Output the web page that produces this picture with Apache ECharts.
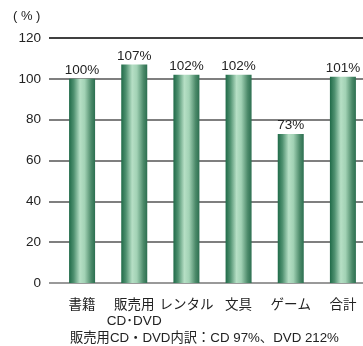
<!DOCTYPE html>
<html>
<head>
<meta charset="utf-8">
<script src="https://cdn.jsdelivr.net/npm/echarts@6/dist/echarts.min.js"></script>
<style>
html,body{margin:0;padding:0;background:#fff;}
#chart{width:363px;height:346px;}
</style>
</head>
<body>
<div id="chart"></div>
<script>
// 前年比（％）
const categories = ['書籍', '販売用\nCD･DVD', 'レンタル', '文具', 'ゲーム', '合計'];
const values = [100, 107, 102, 102, 73, 101];
const yTicks = [0, 20, 40, 60, 80, 100, 120];
const unitLabel = '( % )';
const footnote = '販売用CD・DVD内訳：CD 97%、DVD 212%';

const fontLatin = '"Liberation Sans", Arial, "Noto Sans CJK JP", sans-serif';

const barGradient = new echarts.graphic.LinearGradient(0, 0, 1, 0, [
  { offset: 0, color: '#1f6a48' },
  { offset: 0.18, color: '#4f9170' },
  { offset: 0.42, color: '#b6dfc5' },
  { offset: 0.6, color: '#a2d2b5' },
  { offset: 0.85, color: '#4c8a6a' },
  { offset: 1, color: '#2c6f50' }
]);

const chart = echarts.init(document.getElementById('chart'), null, { renderer: 'canvas' });
chart.setOption({
  animation: false,
  backgroundColor: '#ffffff',
  title: [
    {
      text: unitLabel, left: 13, top: 10, padding: 0,
      textStyle: { fontFamily: fontLatin, fontSize: 13, fontWeight: 'normal', color: '#222' }
    },
    {
      text: footnote, left: 70, top: 332, padding: 0,
      textStyle: { fontFamily: fontLatin, fontSize: 13.3, fontWeight: 'normal', color: '#222' }
    }
  ],
  grid: [
    { left: 49, right: 0, top: 38, bottom: 63, outerBoundsMode: 'none', containLabel: false },
    { left: 56, width: 313, top: 38, bottom: 63, outerBoundsMode: 'none', containLabel: false }
  ],
  xAxis: [
    { type: 'value', gridIndex: 0, show: false, min: 0, max: 1 },
    {
      type: 'category', gridIndex: 1, data: categories,
      axisLine: { show: false }, axisTick: { show: false },
      axisLabel: {
        interval: 0, margin: 14, color: '#222', fontFamily: fontLatin, fontSize: 13.5, lineHeight: 16
      }
    }
  ],
  yAxis: [
    {
      type: 'value', gridIndex: 0, min: 0, max: 120, interval: 20,
      axisLine: { show: false }, axisTick: { show: false },
      axisLabel: {
        margin: 8, color: '#222', fontFamily: fontLatin, fontSize: 13.5,
        formatter: v => yTicks.includes(v) ? String(v) : ''
      },
      splitLine: {
        show: true,
        lineStyle: { color: ['#777', '#555', '#555', '#555', '#555', '#555', '#000'], width: 1.5 }
      }
    },
    {
      type: 'value', gridIndex: 1, min: 0, max: 120, interval: 20, show: false
    }
  ],
  series: [
    {
      type: 'bar', xAxisIndex: 1, yAxisIndex: 1,
      data: values, barWidth: 26,
      itemStyle: { color: barGradient },
      label: {
        show: true, position: 'top', distance: 2,
        formatter: p => p.value + '%',
        color: '#222', fontFamily: fontLatin, fontSize: 13.5
      }
    }
  ]
});
</script>
</body>
</html>
